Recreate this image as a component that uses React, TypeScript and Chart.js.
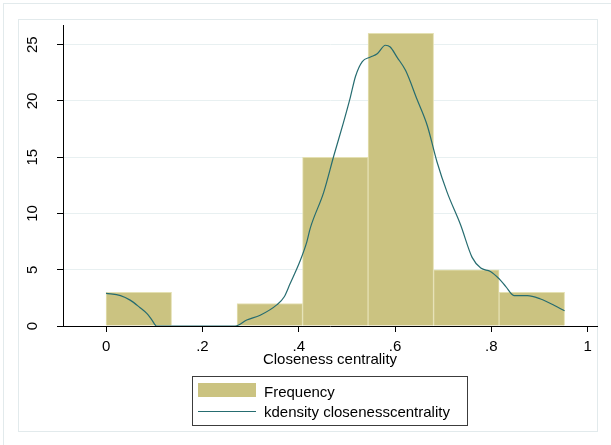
import React, { useEffect, useRef } from "react";
import { Chart, registerables } from "chart.js";

Chart.register(...registerables);

// Histogram bins (centres of equal-width bins of 0.136)
const binCenters = [0.068, 0.204, 0.34, 0.476, 0.612, 0.748, 0.884];
const frequency = [3, 0, 2, 15, 26, 5, 3];

// kdensity curve (scaled to frequency)
const kdX = [
  0.0, 0.03, 0.05, 0.07, 0.085, 0.095, 0.105, 0.268, 0.292, 0.32, 0.355, 0.37,
  0.382, 0.403, 0.417, 0.424, 0.452, 0.473, 0.493, 0.507, 0.518, 0.532, 0.549,
  0.563, 0.58, 0.59, 0.604, 0.622, 0.646, 0.667, 0.687, 0.708, 0.736, 0.76,
  0.778, 0.798, 0.816, 0.83, 0.847, 0.875, 0.902, 0.93, 0.952,
];
const kdY = [
  2.9, 2.7, 2.3, 1.65, 1.1, 0.55, 0.0, 0.0, 0.53, 0.96, 1.9, 2.6, 3.75, 5.8, 7.5,
  8.7, 11.9, 15.15, 18.1, 20.3, 22.2, 23.5, 23.9, 24.2, 24.95, 24.8, 23.9, 22.7,
  20.1, 17.8, 14.6, 11.9, 9.0, 6.1, 5.15, 4.85, 4.2, 3.5, 2.7, 2.7, 2.4, 1.85,
  1.35,
];

const xTickValues = [0, 0.2, 0.4, 0.6, 0.8, 1];
const xTickLabels = ["0", ".2", ".4", ".6", ".8", "1"];
const yTickValues = [0, 5, 10, 15, 20, 25];
const yTickLabels = ["0", "5", "10", "15", "20", "25"];

const xTitle = "Closeness centrality";
const legendLabels = ["Frequency", "kdensity closenesscentrality"];

const BAR_COLOR = "rgb(203,195,129)";
const BAR_EDGE = "rgb(228,224,178)";
const LINE_COLOR = "rgb(38,108,112)";
const FRAME_COLOR = "rgb(226,234,236)";
const GRID_COLOR = "rgb(232,240,241)";
const FONT = "'Liberation Sans', Arial, sans-serif";

const framePlugin = {
  id: "stataFrames",
  beforeDraw(chart: any) {
    const ctx = chart.ctx;
    ctx.save();
    ctx.fillStyle = "#ffffff";
    ctx.fillRect(0, 0, chart.width, chart.height);
    ctx.strokeStyle = FRAME_COLOR;
    ctx.lineWidth = 1;
    ctx.strokeRect(3.5, 3.5, chart.width + 10, chart.height + 10);
    ctx.strokeRect(18.5, 19.5, 579, 412);
    ctx.restore();
  },
};

const legendPlugin = {
  id: "stataLegend",
  afterDraw(chart: any) {
    const ctx = chart.ctx;
    ctx.save();
    const bx = 192.5, by = 376.5, bw = 275, bh = 49;
    ctx.fillStyle = "#ffffff";
    ctx.fillRect(bx, by, bw, bh);
    ctx.strokeStyle = "#3c3c3c";
    ctx.lineWidth = 1;
    ctx.strokeRect(bx, by, bw, bh);
    ctx.fillStyle = BAR_COLOR;
    ctx.fillRect(198, 383, 58, 14);
    ctx.strokeStyle = LINE_COLOR;
    ctx.beginPath();
    ctx.moveTo(198, 411.5);
    ctx.lineTo(256, 411.5);
    ctx.stroke();
    ctx.fillStyle = "#000000";
    ctx.font = `15px ${FONT}`;
    ctx.textBaseline = "alphabetic";
    ctx.textAlign = "left";
    ctx.fillText(legendLabels[0], 264, 396.5);
    ctx.fillText(legendLabels[1], 264, 417);
    ctx.restore();
  },
};

export default function App() {
  const ref = useRef<HTMLCanvasElement | null>(null);

  useEffect(() => {
    if (!ref.current) return;
    const chart = new Chart(ref.current, {
      type: "bar",
      data: {
        datasets: [
          {
            type: "line",
            label: legendLabels[1],
            data: kdX.map((x, i) => ({ x, y: kdY[i] })),
            borderColor: LINE_COLOR,
            borderWidth: 1.2,
            pointRadius: 0,
            cubicInterpolationMode: "monotone",
            fill: false,
            order: 1,
          } as any,
          {
            type: "bar",
            label: legendLabels[0],
            data: binCenters.map((x, i) => ({ x, y: frequency[i] })),
            backgroundColor: BAR_COLOR,
            borderColor: BAR_EDGE,
            borderWidth: 1,
            borderSkipped: "bottom",
            barPercentage: 1,
            categoryPercentage: 1,
            order: 2,
          } as any,
        ],
      },
      options: {
        animation: false,
        responsive: false,
        layout: { padding: { left: 0, right: 14, top: 21, bottom: 0 } },
        plugins: {
          legend: { display: false },
          tooltip: { enabled: false },
        },
        scales: {
          x: {
            type: "linear",
            min: -0.0894,
            max: 1.0193,
            offset: false,
            z: 1,
            afterBuildTicks: (scale: any) => {
              scale.ticks = xTickValues.map((v) => ({ value: v }));
            },
            afterFit: (scale: any) => {
              scale.height = 119;
            },
            grid: {
              drawOnChartArea: false,
              drawTicks: true,
              tickLength: 6,
              tickColor: "#000000",
              offset: false,
            },
            border: { display: true, color: "#000000", width: 1 },
            ticks: {
              padding: 6,
              color: "#000000",
              font: { family: FONT, size: 15 },
              maxRotation: 0,
              autoSkip: false,
              callback: (v: any) => {
                const i = xTickValues.findIndex((t) => Math.abs(t - v) < 1e-9);
                return i >= 0 ? xTickLabels[i] : "";
              },
            },
            title: {
              display: true,
              text: xTitle,
              color: "#000000",
              font: { family: FONT, size: 15 },
              padding: { top: 0, bottom: 76 },
            },
          },
          y: {
            type: "linear",
            min: 0,
            max: 26.75,
            afterBuildTicks: (scale: any) => {
              scale.ticks = yTickValues.map((v) => ({ value: v }));
            },
            afterFit: (scale: any) => {
              scale.width = 63;
            },
            grid: {
              color: GRID_COLOR,
              lineWidth: 1,
              drawTicks: true,
              tickLength: 6,
              tickColor: "#000000",
            },
            border: { display: true, color: "#000000", width: 1 },
            ticks: {
              padding: 16,
              color: "#000000",
              font: { family: FONT, size: 15 },
              minRotation: 90,
              maxRotation: 90,
              crossAlign: "center",
              autoSkip: false,
              callback: (v: any) => {
                const i = yTickValues.findIndex((t) => Math.abs(t - v) < 1e-9);
                return i >= 0 ? yTickLabels[i] : "";
              },
            },
          },
        },
      } as any,
      plugins: [framePlugin, legendPlugin],
    });
    return () => chart.destroy();
  }, []);

  return (
    <div style={{ position: "absolute", left: 0, top: 0, width: 611, height: 445 }}>
      <canvas ref={ref} width={611} height={445} style={{ display: "block" }} />
    </div>
  );
}
